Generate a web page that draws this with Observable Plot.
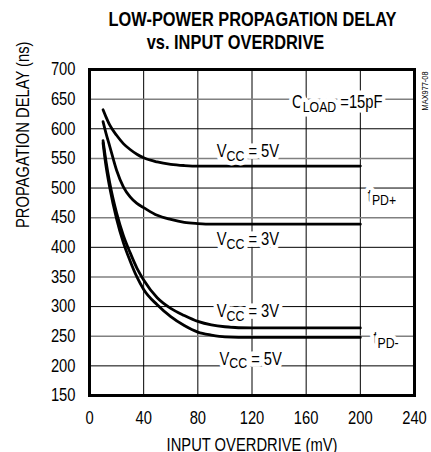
<!DOCTYPE html>
<html>
<head>
<meta charset="utf-8">
<script src="https://cdn.jsdelivr.net/npm/d3@7"></script>
<script src="https://cdn.jsdelivr.net/npm/@observablehq/plot@0.6"></script>
<style>
  html, body { margin: 0; padding: 0; background: white; }
</style>
</head>
<body>
<div id="chart"></div>
<script>
// ---- data ----
const overdrive  = [10, 12, 15, 20, 25, 30, 35, 40, 50, 60, 70, 80, 90, 100, 120, 200]; // mV
const tpdPlus5V  = [632, 621, 606, 589, 575, 565, 557, 551, 544, 540, 538, 537, 537, 537, 537, 537];
const tpdPlus3V  = [612, 594, 570, 530, 502, 485, 474, 467, 454, 447, 442, 440, 439, 439, 439, 439];
const tpdMinus3V = [580, 548, 508, 458, 420, 391, 365, 345, 315, 297, 285, 275, 269, 266, 264, 264];
const tpdMinus5V = [576, 540, 500, 448, 408, 377, 350, 329, 303, 283, 268, 257, 252, 249, 248, 248];

const xTicks = [0, 40, 80, 120, 160, 200, 240];
const yTicks = [150, 200, 250, 300, 350, 400, 450, 500, 550, 600, 650, 700];

const titleLines = ["LOW-POWER PROPAGATION DELAY", "vs. INPUT OVERDRIVE"];
const xLabel = "INPUT OVERDRIVE (mV)";
const yLabel = "PROPAGATION DELAY (ns)";
const figureCode = "MAX977-08";

const annotations = [
  {x: 183, y: 644, main: "C", sub: "LOAD", tail: " =15pF"},
  {x: 117, y: 562, main: "V", sub: "CC", tail: " = 5V"},
  {x: 216, y: 487, main: "t", sub: "PD+", tail: ""},
  {x: 117, y: 413, main: "V", sub: "CC", tail: " = 3V"},
  {x: 117, y: 292, main: "V", sub: "CC", tail: " = 3V"},
  {x: 219, y: 246, main: "t", sub: "PD-", tail: ""},
  {x: 119, y: 212, main: "V", sub: "CC", tail: " = 5V"}
];

// ---- build ----
const FONT = '"Liberation Sans", Arial, sans-serif';
const NARROW = 0.82;
const series = [
  ["tPD+ VCC=5V", tpdPlus5V],
  ["tPD+ VCC=3V", tpdPlus3V],
  ["tPD- VCC=3V", tpdMinus3V],
  ["tPD- VCC=5V", tpdMinus5V]
];
const rows = series.flatMap(([name, vals]) => overdrive.map((x, i) => ({x, y: vals[i], series: name})));
const xMin = xTicks[0], xMax = xTicks[xTicks.length - 1];
const yMin = yTicks[0], yMax = yTicks[yTicks.length - 1];
const gridX = xTicks.filter(v => v > xMin && v < xMax);
const gridYDark = yTicks.filter(v => v > yMin && v < yMax && v % 100 === 0);
const gridYGray = yTicks.filter(v => v > yMin && v < yMax && v % 100 !== 0);

const chart = Plot.plot({
  width: 431,
  height: 452,
  marginTop: 69,
  marginBottom: 57,
  marginLeft: 89,
  marginRight: 17,
  style: {fontFamily: FONT, fontSize: "18px", background: "white", color: "black"},
  x: {domain: [xMin, xMax], ticks: xTicks, tickSize: 0, tickPadding: 16, label: null},
  y: {domain: [yMin, yMax], ticks: yTicks, tickSize: 0, tickPadding: 14, label: null},
  marks: [
    Plot.ruleX(gridX, {stroke: "black", strokeWidth: 1}),
    Plot.ruleY(gridYDark, {stroke: "black", strokeWidth: 1}),
    Plot.ruleY(gridYGray, {stroke: "#808080", strokeWidth: 1.5}),
    Plot.line(rows, {x: "x", y: "y", z: "series", stroke: "black", strokeWidth: 2.8, curve: "monotone-x"}),
    Plot.text(annotations, {
      x: "x", y: "y", text: d => d.main + d.sub + d.tail,
      fill: "black", stroke: "white", strokeWidth: 9, paintOrder: "stroke", strokeLinejoin: "round",
      fontSize: 18
    }),
    Plot.frame({stroke: "black", strokeWidth: 3}),
    Plot.text([titleLines[0]], {frameAnchor: "top", lineAnchor: "middle", dx: 0.5, dy: -50, fontSize: 20, fontWeight: "bold", fill: "black"}),
    Plot.text([titleLines[1]], {frameAnchor: "top", lineAnchor: "middle", dx: -16.5, dy: -26.5, fontSize: 20, fontWeight: "bold", fill: "black"}),
    Plot.text([yLabel], {frameAnchor: "left", lineAnchor: "middle", rotate: -90, dx: -66, dy: -4.5, fontSize: 18, fill: "black"}),
    Plot.text([xLabel], {frameAnchor: "bottom", lineAnchor: "middle", dy: 50, fontSize: 18, fill: "black"}),
    Plot.text([figureCode], {frameAnchor: "top-right", lineAnchor: "top", rotate: -90, dx: 7, dy: 2, fontSize: 9, fill: "black"})
  ]
});

// subscripts for the annotation labels
const ns = "http://www.w3.org/2000/svg";
const allTexts = Array.from(chart.querySelectorAll("text"));
annotations.forEach(a => {
  const t = allTexts.find(el => !el.dataset.done && el.textContent === a.main + a.sub + a.tail);
  if (!t) return;
  t.dataset.done = "1";
  while (t.firstChild) t.removeChild(t.firstChild);
  const s1 = document.createElementNS(ns, "tspan"); s1.textContent = a.main; t.appendChild(s1);
  const s2 = document.createElementNS(ns, "tspan"); s2.textContent = a.sub; s2.setAttribute("dy", "3.5"); s2.setAttribute("font-size", "15"); t.appendChild(s2);
  if (a.tail) { const s3 = document.createElementNS(ns, "tspan"); s3.textContent = a.tail; s3.setAttribute("dy", "-3.5"); t.appendChild(s3); }
});

// narrow (condensed) lettering, like Helvetica Narrow
allTexts.forEach(t => {
  const tr = t.getAttribute("transform");
  const x = parseFloat(t.getAttribute("x") || "0");
  if (t.hasAttribute("x")) t.removeAttribute("x");
  t.setAttribute("transform", (tr ? tr + " " : "") + `translate(${x},0) scale(${NARROW},1)`);
});

document.getElementById("chart").appendChild(chart);
</script>
</body>
</html>
